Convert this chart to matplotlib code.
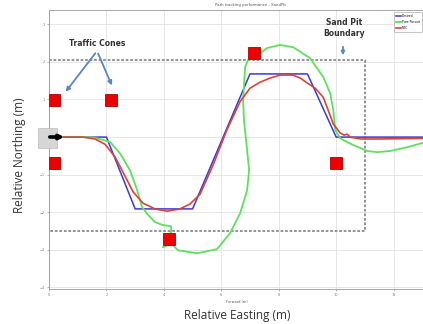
import matplotlib
matplotlib.use("Agg")
import matplotlib.pyplot as plt
from matplotlib.patches import Rectangle, FancyArrowPatch

W, H = 423, 324

# ---- data ----
desired_x = [0.5, 2.0, 3.0, 5.0, 7.0, 9.0, 10.0, 13.5]
desired_y = [0.0, 0.0, -1.91, -1.91, 1.68, 1.68, 0.0, 0.0]

mpc_x = [0.49, 1.18, 1.60, 1.95, 2.30, 2.65, 2.93, 3.28, 3.69, 4.11, 4.56, 4.91, 5.26, 5.71,
         6.20, 6.66, 7.00, 7.35, 7.70, 8.05, 8.50, 8.75, 8.99, 9.27, 9.55, 9.72, 9.90, 10.14,
         10.28, 10.38, 10.49, 10.84, 11.53, 13.5]
mpc_y = [0.0, 0.0, -0.05, -0.19, -0.53, -1.04, -1.46, -1.76, -1.91, -1.97, -1.91, -1.78, -1.52, -0.75,
         0.20, 0.95, 1.30, 1.46, 1.57, 1.65, 1.65, 1.57, 1.44, 1.30, 1.06, 0.72, 0.35, 0.11,
         0.05, 0.08, 0.0, -0.05, -0.05, -0.03]

pp_x = [0.49, 1.43, 1.67, 2.13, 2.47, 2.82, 3.07, 3.24, 3.45, 3.69, 3.97, 4.25, 4.25, 4.08, 3.97,
        4.15, 4.32, 4.49, 5.16, 5.85, 6.31, 6.66, 6.90, 6.97, 6.90, 6.79, 6.76, 6.83, 6.93, 7.11,
        7.35, 7.60, 8.05, 8.50, 9.09, 9.55, 9.79, 9.90, 9.97, 10.14, 10.38, 10.59, 10.84, 11.08,
        11.43, 11.88, 12.47, 13.5]
pp_y = [0.0, 0.0, -0.03, -0.13, -0.43, -0.88, -1.41, -1.86, -2.07, -2.26, -2.34, -2.37, -2.53, -2.79, -2.93,
        -2.87, -2.87, -3.01, -3.09, -2.98, -2.55, -2.02, -1.41, -0.88, -0.35, 0.45, 0.98, 1.86, 2.05, 2.18,
        2.23, 2.37, 2.45, 2.39, 2.10, 1.60, 1.17, 0.72, 0.19, -0.03, -0.13, -0.21, -0.29, -0.37,
        -0.40, -0.37, -0.27, -0.05]

cone_x = [0.17, 2.16, 0.17, 7.14, 10.0, 4.18]
cone_y = [0.98, 0.98, -0.69, 2.23, -0.69, -2.71]

pit_x = [0.0, 11.0, 11.0, 0.0]
pit_y = [2.05, 2.05, -2.49, -2.49]

series_labels = ["Desired", "Pure Pursuit", "MPC"]
xticks = [0, 2, 4, 6, 8, 10, 12]
yticks = [-4, -3, -2, -1, 0, 1, 2, 3]

# ---- figure ----
fig = plt.figure(figsize=(W / 100, H / 100), dpi=100)
fig.patch.set_facecolor("white")

def fx(px):
    return px / W

def fy(py):
    return 1 - py / H

ax = fig.add_axes([fx(49), fy(289), (451 - 49) / W, (289 - 10) / H])
ax.set_xlim(0, 14)
ax.set_ylim(-4.04, 3.38)
ax.set_xticks(xticks)
ax.set_yticks(yticks)
ax.tick_params(labelsize=2.5, length=1.5, width=0.4, colors="#777777", pad=1.5)
ax.grid(True, color="#e2e2e2", linewidth=0.6)
for s in ax.spines.values():
    s.set_color("#999999")
    s.set_linewidth(0.6)

ax.plot(pit_x, pit_y, color="#8a8a8a", linewidth=1.3, linestyle=(0, (1.5, 1.0)), zorder=2)

l1, = ax.plot(desired_x, desired_y, color="#3a3ad0", linewidth=1.1, zorder=3)
l2, = ax.plot(pp_x, pp_y, color="#5ee05e", linewidth=1.3, zorder=4)
l3, = ax.plot(mpc_x, mpc_y, color="#d8433a", linewidth=1.2, zorder=5)

ax.plot(cone_x, cone_y, linestyle="none", marker="s", markersize=8.5,
        markerfacecolor="#ee0000", markeredgecolor="#b00000", markeredgewidth=0.6, zorder=6)

ax.set_title("Path tracking performance - SandPit", fontsize=2.8, color="#555555", pad=3)

leg = fig.legend([l1, l2, l3], series_labels, loc="upper right",
                 bbox_to_anchor=(fx(422), fy(12)), fontsize=2.2, frameon=True,
                 handlelength=1.6, handletextpad=0.4, borderpad=0.6, labelspacing=0.7,
                 borderaxespad=0)
leg.get_frame().set_edgecolor("#999999")
leg.get_frame().set_linewidth(0.5)

# vehicle icon and arrow
fig.patches.append(Rectangle((fx(38), fy(148)), (57 - 38) / W, (148 - 128) / H,
                             transform=fig.transFigure, facecolor="#d6d6d6",
                             edgecolor="#b0b0b0", linewidth=0.4, zorder=7))
fig.patches.append(FancyArrowPatch((fx(47), fy(137)), (fx(67), fy(137)),
                                   transform=fig.transFigure, arrowstyle="-|>",
                                   mutation_scale=6, color="black", linewidth=2.6, zorder=8))

# annotations
fig.text(fx(97), fy(43), "Traffic Cones", fontsize=5.5, fontweight="bold",
         ha="center", va="center", color="#333333")
for tx, ty in [(64, 94), (113, 88)]:
    fig.patches.append(FancyArrowPatch((fx(97), fy(51)), (fx(tx), fy(ty)),
                                       transform=fig.transFigure, arrowstyle="-|>",
                                       mutation_scale=6, color="#5b86b8", linewidth=1.3))
fig.text(fx(344), fy(28), "Sand Pit\nBoundary", fontsize=5.5, fontweight="bold",
         ha="center", va="center", color="#333333", linespacing=1.2)
fig.patches.append(FancyArrowPatch((fx(343), fy(44)), (fx(343), fy(58)),
                                   transform=fig.transFigure, arrowstyle="-|>",
                                   mutation_scale=5, color="#5b86b8", linewidth=1.3))

fig.text(fx(237), fy(302), "Forward (m)", fontsize=2.5, ha="center", va="center", color="#555555")
fig.text(fx(237), fy(316), "Relative Easting (m)", fontsize=8.5, ha="center", va="center",
         family="Open Sans", color="#333333")
fig.text(fx(20), fy(155), "Relative Northing (m)", fontsize=8.5, ha="center", va="center",
         rotation=90, family="Open Sans", color="#333333")

fig.savefig("out.png", dpi=100)
